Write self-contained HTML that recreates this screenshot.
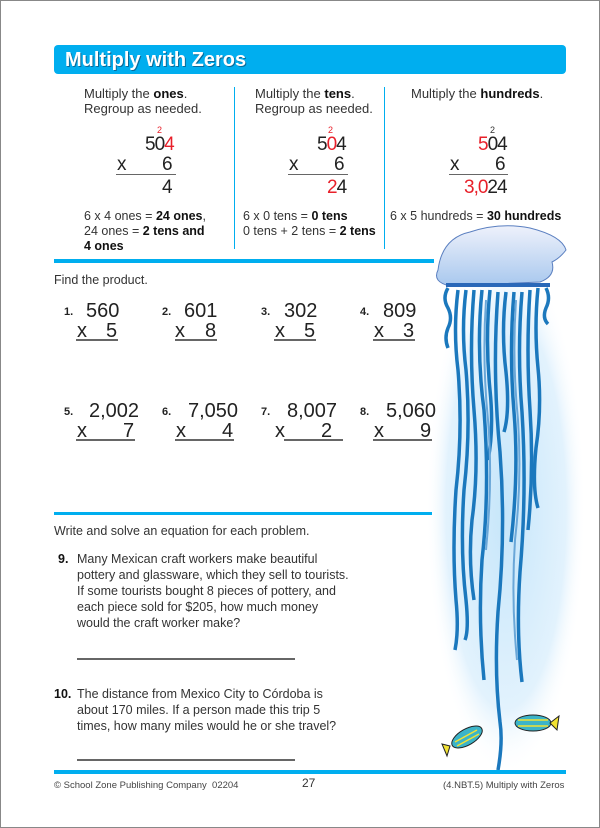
<!DOCTYPE html>
<html><head><meta charset="utf-8"><style>
*{margin:0;padding:0;box-sizing:border-box}
body{width:600px;height:828px;position:relative;background:#fff;font-family:"Liberation Sans",sans-serif;color:#333;overflow:hidden}
.frame{position:absolute;left:0;top:0;width:600px;height:828px;border:1px solid #888}
.a{position:absolute;white-space:nowrap}
.t{font-size:12.5px;line-height:16px;color:#333}
.t2{font-size:13px;line-height:15px;color:#333}
b{color:#111}
.r{color:#e8202a}
.big{font-size:20px;line-height:20px;color:#222}
.bg{font-size:19px;line-height:20px;color:#222;letter-spacing:-1px}
.ln{position:absolute;height:2px;background:#666}
.blue{position:absolute;background:#00aeef}
.num{font-size:11px;font-weight:bold;color:#222}
</style></head><body>
<div class="frame"></div>
<svg class="a" style="left:0;top:0" width="600" height="828">
<defs>
<radialGradient id="g" cx="50%" cy="50%" r="50%"><stop offset="0" stop-color="#c6e6fa"/><stop offset="0.75" stop-color="#e2f2fd"/><stop offset="1" stop-color="#fff" stop-opacity="0"/></radialGradient>
<linearGradient id="b" x1="0" y1="0" x2="0" y2="1"><stop offset="0" stop-color="#eef1fb"/><stop offset="1" stop-color="#a8c8ee"/></linearGradient>
</defs>
<ellipse cx="506" cy="510" rx="80" ry="265" fill="url(#g)"/>
<path d="M438 270 Q442 238 470 232 Q500 222 530 228 Q562 236 566 250 Q560 258 552 262 Q556 276 540 282 L450 286 Q432 282 438 270Z" fill="url(#b)" stroke="#5a7fc0" stroke-width="1"/>
<path d="M446 285 L550 285" stroke="#2a68b8" stroke-width="4"/>
<g fill="none" stroke="#1b78bd" stroke-width="3.5">
<path d="M448 288 q-6 10 0 20 q5 10 0 20 q-4 10 0 20"/>
<path d="M458 290 q-5 40 0 80 q5 60 -2 120 q-4 60 0 110 q3 30 -1 50"/>
<path d="M466 290 q-5 40 0 80 q5 60 -2 120 q-4 60 2 110 q3 30 -1 40"/>
<path d="M474 290 q-5 60 0 120 q5 60 -2 110 q-4 40 2 80"/>
<path d="M482 290 q-6 60 2 120 q6 80 -2 150 q-4 60 2 120"/>
<path d="M490 290 q-5 50 0 100 q4 40 -2 70"/>
<path d="M498 292 q-6 80 2 160 q6 80 -2 160 q-4 60 2 110 q3 20 -2 48"/>
<path d="M506 292 q-5 40 0 80 q4 40 -2 60"/>
<path d="M514 292 q-5 60 0 120 q5 60 -3 130"/>
<path d="M522 292 q-5 60 0 120 q5 80 -2 160 q-4 60 2 110"/>
<path d="M530 290 q-4 60 0 120 q4 60 -2 120"/>
<path d="M538 288 q-4 40 0 80 q4 40 -2 80 q-4 40 2 60"/>
<path d="M546 288 q5 10 0 20 q-4 10 2 16"/>
</g>
<g fill="none" stroke="#6aa7d8" stroke-width="2">
<path d="M486 300 q-4 60 2 120 q5 60 -2 130"/>
<path d="M516 300 q-4 60 2 120 q4 60 -3 120 q-4 60 2 120"/>
</g>
<g stroke="#222" stroke-width="1">
<ellipse cx="467" cy="737" rx="17" ry="8" transform="rotate(-30 467 737)" fill="#3cb4c8"/>
<path d="M450 746 l-8 -2 l5 12z" fill="#f2e233"/>
<ellipse cx="533" cy="723" rx="18" ry="8" fill="#3cb4c8"/>
<path d="M550 723 l9 -7 l-2 14z" fill="#f2e233"/>
</g>
<g stroke="#f2e233" stroke-width="1.5" fill="none">
<path d="M455 742 l22 -12 M457 746 l22 -12"/><path d="M518 720 l30 0 M518 726 l30 0"/>
</g>
</svg>

<div class="blue" style="left:54px;top:45px;width:512px;height:29px;border-radius:4px"></div>
<div class="a" style="left:65px;top:47px;font-size:20px;line-height:26px;font-weight:bold;color:#fff;text-shadow:1px 1px 0 #0a6a99">Multiply with Zeros</div>

<div class="a t2" style="left:84px;top:86px">Multiply the <b>ones</b>.<br>Regroup as needed.</div>
<div class="a t2" style="left:255px;top:86px">Multiply the <b>tens</b>.<br>Regroup as needed.</div>
<div class="a t2" style="left:411px;top:86px">Multiply the <b>hundreds</b>.</div>
<div class="blue" style="left:234px;top:87px;width:1px;height:162px"></div>
<div class="blue" style="left:384px;top:87px;width:1px;height:162px"></div>

<div class="a r" style="left:157px;top:125px;font-size:9px">2</div>
<div class="a bg" style="left:145px;top:135px">50<span class="r">4</span></div>
<div class="a bg" style="left:117px;top:155px">x</div><div class="a bg r" style="left:162px;top:155px">6</div>
<div class="ln" style="left:116px;top:174px;width:60px;height:1px"></div>
<div class="a bg r" style="left:162px;top:178px">4</div>

<div class="a r" style="left:328px;top:125px;font-size:9px">2</div>
<div class="a bg" style="left:317px;top:135px">5<span class="r">0</span>4</div>
<div class="a bg" style="left:289px;top:155px">x</div><div class="a bg r" style="left:334px;top:155px">6</div>
<div class="ln" style="left:288px;top:174px;width:60px;height:1px"></div>
<div class="a bg" style="left:327px;top:178px"><span class="r">2</span>4</div>

<div class="a" style="left:490px;top:125px;font-size:9px">2</div>
<div class="a bg" style="left:478px;top:135px"><span class="r">5</span>04</div>
<div class="a bg" style="left:450px;top:155px">x</div><div class="a bg r" style="left:495px;top:155px">6</div>
<div class="ln" style="left:449px;top:174px;width:59px;height:1px"></div>
<div class="a bg" style="left:464px;top:178px"><span class="r">3,0</span>24</div>

<div class="a t" style="left:84px;top:209px;line-height:15px">6 x 4 ones = <b>24 ones</b>,<br>24 ones = <b>2 tens and</b><br><b>4 ones</b></div>
<div class="a t" style="left:243px;top:209px;line-height:15px">6 x 0 tens = <b>0 tens</b><br>0 tens + 2 tens = <b>2 tens</b></div>
<div class="a t" style="left:390px;top:209px;line-height:15px">6 x 5 hundreds = <b>30 hundreds</b></div>

<div class="blue" style="left:54px;top:259px;width:380px;height:4px"></div>
<div class="a t" style="left:54px;top:272px">Find the product.</div>

<div class="a num" style="left:64px;top:306px">1.</div><div class="a big" style="left:86px;top:301px">560</div><div class="a big" style="left:77px;top:321px">x</div><div class="a big" style="left:106px;top:321px">5</div><div class="ln" style="left:76px;top:339px;width:42px"></div>
<div class="a num" style="left:162px;top:306px">2.</div><div class="a big" style="left:184px;top:301px">601</div><div class="a big" style="left:175px;top:321px">x</div><div class="a big" style="left:205px;top:321px">8</div><div class="ln" style="left:175px;top:339px;width:42px"></div>
<div class="a num" style="left:261px;top:306px">3.</div><div class="a big" style="left:284px;top:301px">302</div><div class="a big" style="left:275px;top:321px">x</div><div class="a big" style="left:304px;top:321px">5</div><div class="ln" style="left:274px;top:339px;width:42px"></div>
<div class="a num" style="left:360px;top:306px">4.</div><div class="a big" style="left:383px;top:301px">809</div><div class="a big" style="left:374px;top:321px">x</div><div class="a big" style="left:403px;top:321px">3</div><div class="ln" style="left:373px;top:339px;width:42px"></div>
<div class="a num" style="left:64px;top:406px">5.</div><div class="a big" style="left:89px;top:401px">2,002</div><div class="a big" style="left:77px;top:421px">x</div><div class="a big" style="left:123px;top:421px">7</div><div class="ln" style="left:76px;top:439px;width:59px"></div>
<div class="a num" style="left:162px;top:406px">6.</div><div class="a big" style="left:188px;top:401px">7,050</div><div class="a big" style="left:176px;top:421px">x</div><div class="a big" style="left:222px;top:421px">4</div><div class="ln" style="left:175px;top:439px;width:59px"></div>
<div class="a num" style="left:261px;top:406px">7.</div><div class="a big" style="left:287px;top:401px">8,007</div><div class="a big" style="left:275px;top:421px">x</div><div class="a big" style="left:321px;top:421px">2</div><div class="ln" style="left:284px;top:439px;width:59px"></div>
<div class="a num" style="left:360px;top:406px">8.</div><div class="a big" style="left:386px;top:401px">5,060</div><div class="a big" style="left:374px;top:421px">x</div><div class="a big" style="left:420px;top:421px">9</div><div class="ln" style="left:373px;top:439px;width:59px"></div>

<div class="blue" style="left:54px;top:512px;width:378px;height:3px"></div>
<div class="a t" style="left:54px;top:523px">Write and solve an equation for each problem.</div>
<div class="a t" style="left:58px;top:551px"><b>9.</b></div>
<div class="a t" style="left:77px;top:551px">Many Mexican craft workers make beautiful<br>pottery and glassware, which they sell to tourists.<br>If some tourists bought 8 pieces of pottery, and<br>each piece sold for $205, how much money<br>would the craft worker make?</div>
<div class="ln" style="left:77px;top:658px;width:218px"></div>
<div class="a t" style="left:54px;top:686px"><b>10.</b></div>
<div class="a t" style="left:77px;top:686px">The distance from Mexico City to Córdoba is<br>about 170 miles. If a person made this trip 5<br>times, how many miles would he or she travel?</div>
<div class="ln" style="left:77px;top:759px;width:218px"></div>

<div class="blue" style="left:54px;top:770px;width:512px;height:4px"></div>
<div class="a" style="left:54px;top:780px;font-size:9.5px;color:#444">© School Zone Publishing Company&nbsp; 02204</div>
<div class="a" style="left:302px;top:776px;font-size:12px;color:#333">27</div>
<div class="a" style="left:443px;top:780px;font-size:9.5px;color:#444">(4.NBT.5) Multiply with Zeros</div>
</body></html>
